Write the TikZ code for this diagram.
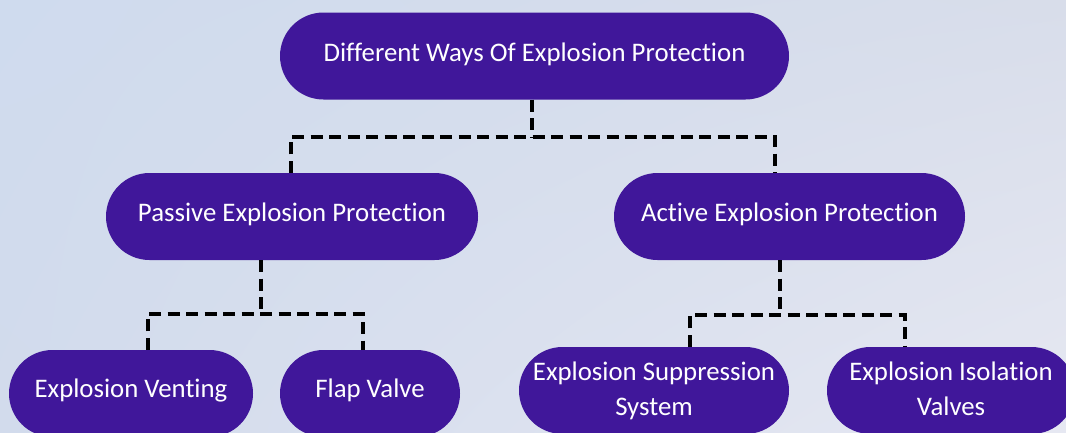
\documentclass[tikz,border=0pt]{standalone}
\usepackage{fontspec}
\setmainfont{Carlito}[Ligatures=NoCommon]
\usetikzlibrary{shadings}
\begin{document}
\begin{tikzpicture}[x=1pt,y=-1pt,
  pill/.style={rectangle, rounded corners=43.5pt, fill=pillc, inner sep=0pt, minimum height=87pt},
  txt/.style={text=white, inner sep=0pt, anchor=base, font=\fontsize{26.8}{35}\selectfont},
  conn/.style={draw=black, line width=3.8pt, dash pattern=on 12pt off 6.5pt}]
\definecolor{pillc}{HTML}{40179A}
\definecolor{bgul}{HTML}{CFDBEE}
\definecolor{bgur}{HTML}{D8DDEA}
\definecolor{bgll}{HTML}{D2DBEC}
\definecolor{bglr}{HTML}{E6E8F2}
\useasboundingbox (0,0) rectangle (1066,432);
\shade[upper left=bgul, upper right=bgur, lower left=bgll, lower right=bglr] (0,0) rectangle (1066,432);

% connector junctions
\coordinate (j1) at (532,137);
\coordinate (j1l) at (291,137);
\coordinate (j1r) at (775,137);
\coordinate (j2) at (261,314);
\coordinate (j2l) at (148,314);
\coordinate (j2r) at (363,314);
\coordinate (j3) at (780,315);
\coordinate (j3l) at (690,315);
\coordinate (j3r) at (905,315);

% boxes
\node[pill, minimum width=509pt] (top) at (534.5,56) {};
\node[pill, minimum width=372pt] (passive) at (292,216.5) {};
\node[pill, minimum width=351pt] (active) at (789.5,216.5) {};
\node[pill, minimum width=244pt] (venting) at (131,393.5) {};
\node[pill, minimum width=180pt] (flap) at (370,393.5) {};
\node[pill, minimum width=270pt] (suppr) at (654,390.5) {};
\node[pill, minimum width=248pt] (isol) at (951,390.5) {};

% texts
\node[txt] (toptxt) at ([yshift=-5pt]top.center) {Different Ways Of Explosion Protection};
\node[txt] (passivetxt) at ([yshift=-4.5pt]passive.center) {Passive Explosion Protection};
\node[txt] (activetxt) at ([yshift=-4.5pt]active.center) {Active Explosion Protection};
\node[txt] (ventingtxt) at ([yshift=-3.5pt]venting.center) {Explosion Venting};
\node[txt] (flaptxt) at ([yshift=-3.5pt]flap.center) {Flap Valve};
\node[txt] (supprtxt) at ([yshift=10.5pt]suppr.center) {\begin{tabular}[t]{@{}c@{}}Explosion Suppression\\System\end{tabular}};
\node[txt] (isoltxt) at ([yshift=10.5pt]isol.center) {\begin{tabular}[t]{@{}c@{}}Explosion Isolation\\Valves\end{tabular}};

% connectors
\draw[conn] (j1 |- top.south) -- (j1);
\draw[conn] (j1l |- passive.north) -- (j1l) -- (j1r) -- (j1r |- active.north);
\draw[conn] (j2 |- passive.south) -- (j2);
\draw[conn] (j2l |- venting.north) -- (j2l) -- (j2r) -- (j2r |- flap.north);
\draw[conn] (j3 |- active.south) -- (j3);
\draw[conn] (j3l |- suppr.north) -- (j3l) -- (j3r) -- (j3r |- isol.north);
\end{tikzpicture}
\end{document}
